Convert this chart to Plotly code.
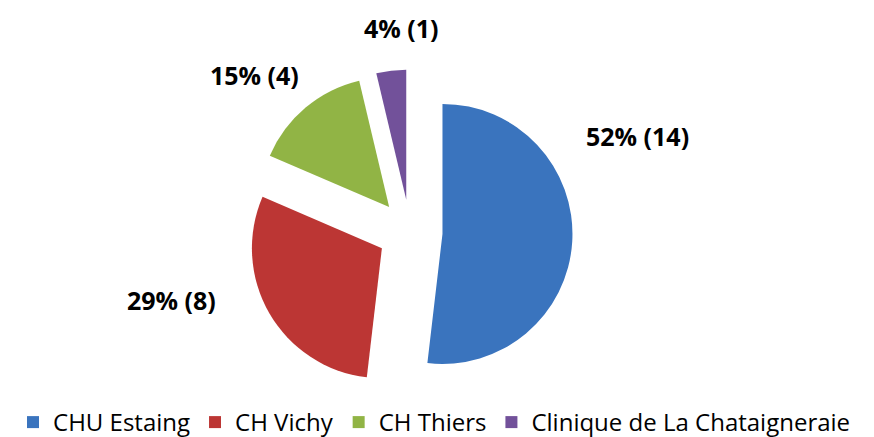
import plotly.graph_objects as go

# Data
sites = ["CHU Estaing", "CH Vichy", "CH Thiers", "Clinique de La Chataigneraie"]
counts = [14, 8, 4, 1]
percents = [52, 29, 15, 4]

colors = ["#3A74BE", "#BC3634", "#91B445", "#72519A"]
label_pos = [(0.7197, 0.7071), (0.1876, 0.3318), (0.2815, 0.8467), (0.4497, 0.9542)]

fig = go.Figure()
fig.add_trace(go.Pie(
    labels=sites,
    values=counts,
    sort=False,
    direction="clockwise",
    rotation=0,
    pull=[0.25, 0.25, 0.25, 0.25],
    marker=dict(colors=colors, line=dict(width=0)),
    textinfo="none",
    hoverinfo="label+value+percent",
    domain=dict(x=[0.2741, 0.6459], y=[0.1155, 0.8593]),
))

# Data labels placed outside the slices
for (x, y), p, c in zip(label_pos, percents, counts):
    fig.add_annotation(
        x=x, y=y, xref="paper", yref="paper",
        text=f"<b>{p}% ({c})</b>",
        showarrow=False,
        font=dict(family="Open Sans", size=25, color="#000000"),
        xanchor="center", yanchor="middle",
    )

fig.update_layout(
    width=874,
    height=437,
    margin=dict(l=0, r=0, t=0, b=0),
    paper_bgcolor="white",
    plot_bgcolor="white",
    showlegend=True,
    legend=dict(
        orientation="h",
        x=0.488, xanchor="center",
        y=0, yanchor="bottom",
        font=dict(family="Open Sans", size=24, color="#000000"),
        itemwidth=30,
        tracegroupgap=0,
    ),
)

fig.write_html("out.html")
